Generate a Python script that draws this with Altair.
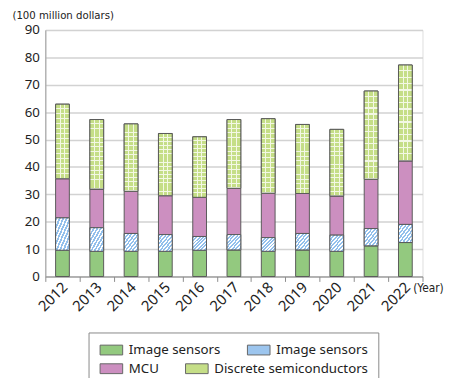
import altair as alt
import pandas as pd

# ---- data ----
years = ["2012", "2013", "2014", "2015", "2016", "2017", "2018", "2019", "2020", "2021", "2022"]
image_sensors = [9.6, 9.2, 9.2, 9.2, 9.6, 9.7, 9.2, 9.7, 9.2, 11.2, 12.4]
image_sensors_2 = [11.8, 8.6, 6.5, 6.1, 5.0, 5.6, 5.0, 6.0, 5.9, 6.3, 6.6]
mcu = [14.3, 14.1, 15.4, 14.2, 14.3, 16.9, 16.2, 14.6, 14.3, 18.0, 23.2]
discrete = [27.2, 25.4, 24.6, 22.7, 22.1, 25.1, 27.2, 25.2, 24.3, 32.2, 35.0]
yticks = [0, 10, 20, 30, 40, 50, 60, 70, 80, 90]

# legend keys (second "Image sensors" carries a trailing space to stay distinct)
keys = ["Image sensors", "Image sensors ", "MCU", "Discrete semiconductors"]
colors = ["#93c97f", "#9cc5ee", "#cc8fc0", "#c5de87"]

rows = []
for i, y in enumerate(years):
    for k, (key, vals) in enumerate(zip(keys, [image_sensors, image_sensors_2, mcu, discrete])):
        rows.append({"year": y, "series": key, "value": vals[i], "order": k})
df = pd.DataFrame(rows)

FONT = "Noto Sans"
NARROW = "Liberation Sans Narrow, DejaVu Sans Condensed, Liberation Sans"
STROKE = "#5a5a5a"


def stripes(base, line, n, frac, x1, y1, x2, y2):
    stops = [{"offset": 0, "color": base}]
    for i in range(n):
        a = (i + 1 - frac) / n
        b = (i + 1) / n
        stops += [{"offset": a, "color": base}, {"offset": a, "color": line},
                  {"offset": b, "color": line}, {"offset": b, "color": base}]
    return {"gradient": "linear", "x1": x1, "y1": y1, "x2": x2, "y2": y2, "stops": stops}


grad_blue = stripes("#93c0ec", "#ffffff", 8, 0.45, 0, 0, 1, 1)
grad_disc_v = {"gradient": "linear", "x1": 0, "y1": 0, "x2": 1, "y2": 0, "stops": [
    {"offset": 0, "color": "#c5de87"}, {"offset": 0.30, "color": "#c5de87"},
    {"offset": 0.30, "color": "#f3f8e4"}, {"offset": 0.37, "color": "#f3f8e4"},
    {"offset": 0.37, "color": "#c5de87"}, {"offset": 0.63, "color": "#c5de87"},
    {"offset": 0.63, "color": "#f3f8e4"}, {"offset": 0.70, "color": "#f3f8e4"},
    {"offset": 0.70, "color": "#c5de87"}, {"offset": 1, "color": "#c5de87"}]}
grad_disc_h = stripes("rgba(255,255,255,0)", "rgba(243,248,228,1)", 15, 0.2, 0, 0, 0, 1)

x_enc = alt.X("year:N", sort=years,
              scale=alt.Scale(paddingInner=0, paddingOuter=0),
              axis=alt.Axis(labelAngle=-45, labelAlign="right", labelBaseline="middle",
                            labelFont=FONT, labelFontSize=15, labelColor="#222",
                            labelPadding=3, labelOffset=2,
                            tickBand="extent", ticks=True, tickSize=5, tickColor="#8c8c8c",
                            domainColor="#8c8c8c", grid=False,
                            title="(Year)", titleAngle=0, titleAlign="left",
                            titleBaseline="middle", titleX=374, titleY=11,
                            titleFont=NARROW, titleFontSize=12, titleFontWeight="normal",
                            titleColor="#222"))
y_enc = alt.Y("y0:Q", scale=alt.Scale(domain=[0, 90], nice=False),
              axis=alt.Axis(values=yticks, grid=True, gridColor="#d2d2d2", gridWidth=1.5,
                            domainColor="#999999", ticks=False,
                            labelFont=FONT, labelFontSize=13.5, labelColor="#222",
                            labelPadding=6,
                            title="(100 million dollars)", titleAngle=0, titleAlign="left",
                            titleBaseline="alphabetic", titleX=-34, titleY=-12,
                            titleFont=NARROW, titleFontSize=11.5, titleFontWeight="normal",
                            titleColor="#222"))
y2_enc = alt.Y2("y1:Q")

leg_common = dict(
    orient="none", direction="horizontal",
    symbolType="M-2.3,-1H2.3V1H-2.3Z", symbolSize=100, symbolOffset=6.5,
    symbolStrokeColor="#666666", symbolStrokeWidth=1,
    labelFont=FONT, labelFontSize=13.5, labelColor="#222", labelOffset=11, labelLimit=400,
    columnPadding=24,
)
legA = dict(leg_common, title=None, legendX=45, legendY=310, padding=9)
legB = dict(leg_common, title=" ", titleOrient="top", titleFontSize=13.5, titlePadding=6.5,
            legendX=44, legendY=308, padding=10, strokeColor="#888888")

base = alt.Chart(df).transform_stack(
    stack="value", groupby=["year"], as_=["y0", "y1"],
    sort=[alt.SortField("order", "ascending")])

barsA = base.transform_filter(alt.FieldOneOfPredicate(field="series", oneOf=keys[:2])).mark_bar(
    size=14, stroke=STROKE, strokeWidth=1).encode(
    x=x_enc, y=y_enc, y2=y2_enc,
    color=alt.Color("series:N", scale=alt.Scale(domain=keys[:2], range=colors[:2]),
                    legend=alt.Legend(**legA)))
barsB = base.transform_filter(alt.FieldOneOfPredicate(field="series", oneOf=keys[2:])).mark_bar(
    size=14, stroke=STROKE, strokeWidth=1).encode(
    x=x_enc, y=y_enc, y2=y2_enc,
    fill=alt.Fill("series:N", scale=alt.Scale(domain=keys[2:], range=colors[2:]),
                  legend=alt.Legend(**legB)))
blue = base.transform_filter(alt.datum.series == keys[1]).mark_bar(
    size=14, fill=grad_blue, stroke=STROKE, strokeWidth=1).encode(x=x_enc, y=y_enc, y2=y2_enc)
disc_v = base.transform_filter(alt.datum.series == keys[3]).mark_bar(
    size=14, fill=grad_disc_v, strokeWidth=0).encode(x=x_enc, y=y_enc, y2=y2_enc)
disc_h = base.transform_filter(alt.datum.series == keys[3]).mark_bar(
    size=14, fill=grad_disc_h, stroke=STROKE, strokeWidth=1).encode(x=x_enc, y=y_enc, y2=y2_enc)

chart = alt.layer(barsA, barsB, blue, disc_v, disc_h).properties(
    width=384, height=251,
    autosize=alt.AutoSizeParams(type="none"),
    padding={"left": 38, "top": 19, "right": 29, "bottom": 100},
).configure_view(stroke=None).configure(font=FONT)

chart.save("out.html", embed_options={"renderer": "svg", "actions": False})
